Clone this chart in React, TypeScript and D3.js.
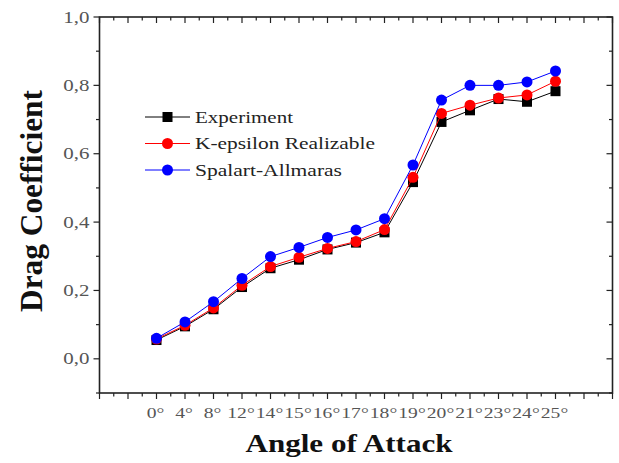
import React from "react";
import * as d3 from "d3";

// Angle-of-attack categories and drag coefficients for each method
const angles = ["0°", "4°", "8°", "12°", "14°", "15°", "16°", "17°", "18°", "19°", "20°", "21°", "23°", "24°", "25°"];
const experiment = [0.055, 0.095, 0.145, 0.21, 0.265, 0.29, 0.32, 0.34, 0.37, 0.517, 0.693, 0.727, 0.76, 0.752, 0.783];
const kEpsilon = [0.058, 0.098, 0.149, 0.215, 0.27, 0.297, 0.323, 0.343, 0.378, 0.531, 0.718, 0.742, 0.763, 0.772, 0.812];
const spalart = [0.06, 0.108, 0.167, 0.235, 0.299, 0.326, 0.355, 0.377, 0.41, 0.567, 0.757, 0.8, 0.8, 0.81, 0.842];
const yTickValues = [0, 0.2, 0.4, 0.6, 0.8, 1.0];

const seriesNames = ["Experiment", "K-epsilon Realizable", "Spalart-Allmaras"];
const seriesColors = ["#000000", "#ff0000", "#0000ff"];
const seriesShapes = ["square", "circle", "circle"];
const seriesValues = [experiment, kEpsilon, spalart];

const W = 619;
const H = 463;
const left = 99.5;
const right = 612.5;
const top = 17;
const bottom = 393;

const x = d3.scaleLinear().domain([-2, 16]).range([left, right]);
const y = d3.scaleLinear().domain([-0.1, 1.0]).range([bottom, top]);

const serif = "'Liberation Serif', 'Times New Roman', serif";
const axisColor = "#222";

function Marker({ shape, cx, cy, color }: { shape: string; cx: number; cy: number; color: string }) {
  if (shape === "square") {
    return <rect x={cx - 5} y={cy - 5} width={10} height={10} fill={color} />;
  }
  return <circle cx={cx} cy={cy} r={5.5} fill={color} />;
}

export default function App() {
  const line = d3
    .line<number>()
    .x((_, i) => x(i))
    .y((d) => y(d));

  const xMinor = d3.range(-2, 16.01, 0.5);
  const yMinor = d3.range(-0.1, 1.001, 0.1).map((v) => Math.round(v * 10) / 10);

  return (
    <svg
      width={W}
      height={H}
      style={{ position: "absolute", left: 0, top: 0, background: "#fff" }}
    >
      <rect x={0} y={0} width={W} height={H} fill="#fff" />

      {/* bottom axis ticks (outward) and top axis ticks (inward) */}
      {xMinor.map((v) => {
        const major = Math.abs(v - Math.round(v)) < 1e-6;
        const len = major ? 6 : 3.5;
        return (
          <g key={`xt${v}`} stroke={axisColor} strokeWidth={1.2}>
            <line x1={x(v)} x2={x(v)} y1={bottom} y2={bottom + len} />
            <line x1={x(v)} x2={x(v)} y1={top} y2={top + len} />
          </g>
        );
      })}

      {/* left axis ticks (outward) and right axis ticks (inward) */}
      {yMinor.map((v) => {
        const major = Math.abs(v * 5 - Math.round(v * 5)) < 1e-6;
        const len = major ? 6 : 3.5;
        return (
          <g key={`yt${v}`} stroke={axisColor} strokeWidth={1.2}>
            <line x1={left - len} x2={left} y1={y(v)} y2={y(v)} />
            <line x1={right - len} x2={right} y1={y(v)} y2={y(v)} />
          </g>
        );
      })}

      {/* frame */}
      <rect
        x={left}
        y={top}
        width={right - left}
        height={bottom - top}
        fill="none"
        stroke={axisColor}
        strokeWidth={1.6}
      />

      {/* y tick labels */}
      {yTickValues.map((v) => (
        <text
          key={`yl${v}`}
          transform={`translate(${left - 10},${y(v) + 5.5}) scale(1.27,1)`}
          textAnchor="end"
          fontFamily={serif}
          fontSize={16.5}
          fill="#555"
        >
          {v.toFixed(1).replace(".", ",")}
        </text>
      ))}

      {/* x tick labels */}
      {angles.map((a, i) => (
        <text
          key={`xl${a}`}
          transform={`translate(${x(i) - 1},${bottom + 25}) scale(1.35,1)`}
          textAnchor="middle"
          fontFamily={serif}
          fontSize={14.5}
          fill="#555"
        >
          {a}
        </text>
      ))}

      {/* axis titles */}
      <text
        x={(left + right) / 2 - 7}
        y={452}
        textAnchor="middle"
        fontFamily={serif}
        fontWeight="bold"
        fontSize={25}
        textLength={207}
        lengthAdjust="spacingAndGlyphs"
        fill="#111"
      >
        Angle of Attack
      </text>
      <text
        transform={`translate(42,${201}) rotate(-90)`}
        textAnchor="middle"
        fontFamily={serif}
        fontWeight="bold"
        fontSize={31}
        textLength={222}
        lengthAdjust="spacingAndGlyphs"
        fill="#111"
      >
        Drag Coefficient
      </text>

      {/* series lines and markers */}
      {seriesValues.map((vals, s) => (
        <g key={`s${s}`}>
          <path d={line(vals) ?? ""} fill="none" stroke={seriesColors[s]} strokeWidth={1} />
          {vals.map((v, i) => (
            <Marker key={i} shape={seriesShapes[s]} cx={x(i)} cy={y(v)} color={seriesColors[s]} />
          ))}
        </g>
      ))}

      {/* legend */}
      {seriesNames.map((name, s) => {
        const ly = 117 + s * 26.5;
        const widths = [98, 180, 147];
        return (
          <g key={`lg${s}`}>
            <line x1={145} x2={190} y1={ly} y2={ly} stroke={seriesColors[s]} strokeWidth={1} />
            <Marker shape={seriesShapes[s]} cx={167.5} cy={ly} color={seriesColors[s]} />
            <text
              x={195}
              y={ly + 5.5}
              fontFamily={serif}
              fontSize={17}
              textLength={widths[s]}
              lengthAdjust="spacingAndGlyphs"
              fill="#222"
            >
              {name}
            </text>
          </g>
        );
      })}
    </svg>
  );
}
